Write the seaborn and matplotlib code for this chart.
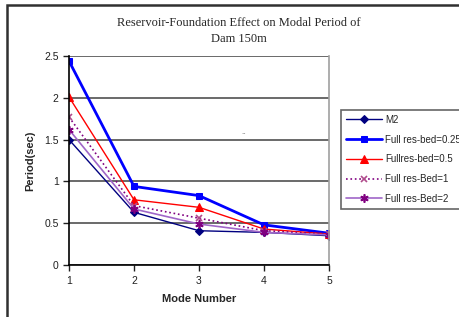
import matplotlib
matplotlib.use("Agg")
import matplotlib.pyplot as plt
import matplotlib.patches as patches
import seaborn as sns

# data
modes = [1, 2, 3, 4, 5]
m2 = [1.50, 0.63, 0.41, 0.39, 0.35]
res_bed_025 = [2.44, 0.94, 0.83, 0.48, 0.38]
res_bed_05 = [2.01, 0.78, 0.69, 0.43, 0.37]
res_bed_1 = [1.77, 0.71, 0.56, 0.41, 0.37]
res_bed_2 = [1.62, 0.67, 0.49, 0.39, 0.36]
labels = ["M2", "Full res-bed=0.25", "Fullres-bed=0.5", "Full res-Bed=1", "Full res-Bed=2"]
y_ticks = [0, 0.5, 1, 1.5, 2, 2.5]
y_tick_labels = ["0", "0.5", "1", "1.5", "2", "2.5"]

sns.set_style("white")
plt.rcParams['font.family'] = ['Liberation Sans', 'DejaVu Sans']

W, H = 460, 317
fig = plt.figure(figsize=(W / 100, H / 100), dpi=100)
ax = fig.add_axes([69 / W, (H - 265) / H, 260 / W, 209 / H])

# outer frame of the chart (clipped on the right and bottom like the original)
fig.patches.append(patches.Rectangle((7 / W, -0.2), 1.2, (H - 5) / H + 0.2,
                                     transform=fig.transFigure, fill=False,
                                     edgecolor='#303030', linewidth=1.8, zorder=0))

sns.lineplot(x=modes, y=m2, ax=ax, color='#000080', marker='D', markersize=4,
             markeredgecolor='#000080', linewidth=1, label=labels[0])
sns.lineplot(x=modes, y=res_bed_025, ax=ax, color='#0000FF', marker='s', markersize=5,
             markeredgecolor='#0000FF', linewidth=2, label=labels[1])
sns.lineplot(x=modes, y=res_bed_05, ax=ax, color='#FF0000', marker='^', markersize=6,
             markeredgecolor='#FF0000', linewidth=1, label=labels[2])
sns.lineplot(x=modes, y=res_bed_1, ax=ax, color='#800080', marker='x', markersize=5,
             markeredgecolor='#B04C8C', markeredgewidth=1.2, linewidth=1.2,
             linestyle=':', label=labels[3])
sns.lineplot(x=modes, y=res_bed_2, ax=ax, color='#A066C8', marker=(6, 2, 0), markersize=6,
             markeredgecolor='#800080', markeredgewidth=1.2, linewidth=1.2, label=labels[4])

ax.set_xlim(1, 5)
ax.set_ylim(0, 2.5)
ax.set_xticks(modes)
ax.set_yticks(y_ticks)
ax.set_yticklabels(y_tick_labels)
ax.tick_params(axis='both', direction='out', length=4, width=1, labelsize=7.5,
               bottom=True, left=True, colors='#202020')
ax.tick_params(axis='x', pad=4)
ax.grid(axis='y', color='#505050', linewidth=1.2)
ax.grid(axis='x', visible=False)
ax.set_axisbelow(True)
for side in ['left', 'bottom']:
    ax.spines[side].set_color('black')
    ax.spines[side].set_linewidth(1.2)
ax.spines['top'].set_visible(False)
ax.spines['right'].set_color('#a0a0a0')
ax.spines['right'].set_linewidth(1.2)

ax.set_xlabel("Mode Number", fontsize=8, fontweight='bold', labelpad=6)
ax.set_ylabel("Period(sec)", fontsize=8, fontweight='bold', labelpad=6)

fig.text(239 / W, 1 - 23 / H, "Reservoir-Foundation Effect on Modal Period of",
         ha='center', va='center', fontsize=9, family=['Liberation Serif'])
fig.text(239 / W, 1 - 39 / H, "Dam 150m",
         ha='center', va='center', fontsize=9, family=['Liberation Serif'])
fig.text(244 / W, 1 - 136 / H, "``", ha='center', va='center', fontsize=5, color='#555555')

leg = ax.legend(loc='upper left', bbox_to_anchor=(341 / W, 1 - 110 / H),
                bbox_transform=fig.transFigure, fontsize=7, frameon=True,
                fancybox=False, edgecolor='#404040', borderpad=0.5,
                labelspacing=1.0, handlelength=3.7, handletextpad=0.3,
                borderaxespad=0)
leg.get_frame().set_linewidth(1.2)

fig.savefig("out.png", dpi=100)
